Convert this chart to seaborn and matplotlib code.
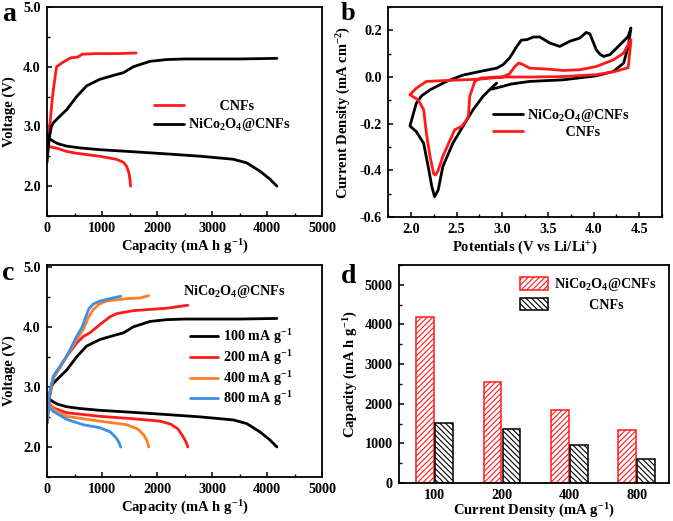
import numpy as np
import pandas as pd
import matplotlib
matplotlib.use('Agg')
import matplotlib.pyplot as plt
import seaborn as sns
from matplotlib.ticker import MultipleLocator, FormatStrFormatter

# ---------------- data ----------------
# Panel a: CNFs
cnf_charge_cap = [0, 20, 55, 100, 150, 176, 282, 433, 555, 645, 900, 1300, 1620]
cnf_charge_v = [2.50, 2.80, 3.06, 3.50, 3.85, 4.00, 4.07, 4.15, 4.16, 4.21, 4.22, 4.22, 4.23]
cnf_dis_cap = [0, 15, 50, 200, 360, 540, 960, 1260, 1390, 1450, 1490, 1510, 1520]
cnf_dis_v = [2.85, 2.70, 2.66, 2.63, 2.58, 2.55, 2.50, 2.45, 2.40, 2.33, 2.22, 2.10, 2.00]

# NiCo2O4@CNFs at 100 mA/g (panels a and c)
n100_charge_cap = [0, 40, 80, 115, 200, 358, 539, 660, 721, 964, 1267, 1390, 1570, 1873, 2176, 2500, 3000, 3500, 4180]
n100_charge_v = [2.40, 2.80, 3.00, 3.06, 3.14, 3.28, 3.50, 3.62, 3.68, 3.79, 3.87, 3.90, 4.00, 4.09, 4.12, 4.13, 4.13, 4.13, 4.14]
n100_dis_cap = [0, 40, 115, 200, 358, 600, 964, 1500, 2176, 2800, 3388, 3630, 3873, 4050, 4180]
n100_dis_v = [2.88, 2.80, 2.75, 2.71, 2.67, 2.64, 2.61, 2.58, 2.54, 2.50, 2.45, 2.39, 2.25, 2.12, 2.00]

# 200 mA/g
n200_charge_cap = [0, 40, 115, 358, 539, 660, 780, 964, 1150, 1267, 1570, 1873, 2176, 2560]
n200_charge_v = [2.40, 2.85, 3.15, 3.51, 3.73, 3.84, 3.90, 4.04, 4.17, 4.22, 4.27, 4.29, 4.31, 4.36]
n200_dis_cap = [0, 40, 115, 358, 964, 1570, 2054, 2250, 2380, 2470, 2530, 2560]
n200_dis_v = [2.82, 2.72, 2.65, 2.57, 2.51, 2.47, 2.43, 2.38, 2.30, 2.18, 2.08, 2.00]

# 400 mA/g
n400_charge_cap = [0, 40, 115, 358, 539, 661, 750, 842, 950, 1085, 1448, 1691, 1850]
n400_charge_v = [2.40, 2.85, 3.15, 3.51, 3.79, 3.96, 4.15, 4.29, 4.38, 4.43, 4.47, 4.48, 4.52]
n400_dis_cap = [0, 40, 115, 358, 964, 1448, 1650, 1760, 1820, 1850]
n400_dis_v = [2.80, 2.70, 2.63, 2.51, 2.43, 2.37, 2.30, 2.20, 2.10, 2.00]

# 800 mA/g
n800_charge_cap = [0, 40, 115, 358, 539, 640, 700, 760, 840, 964, 1145, 1340]
n800_charge_v = [2.40, 2.88, 3.18, 3.51, 3.84, 4.00, 4.15, 4.30, 4.38, 4.43, 4.47, 4.51]
n800_dis_cap = [0, 40, 115, 358, 661, 964, 1150, 1260, 1310, 1340]
n800_dis_v = [2.78, 2.66, 2.59, 2.46, 2.37, 2.32, 2.25, 2.15, 2.07, 2.00]

# Panel b: CV curves
cv_nico_v = [2.89, 3.10, 3.30, 3.67, 4.03, 4.22, 4.33, 4.38, 4.41,
             4.38, 4.29, 4.18, 4.11, 4.07, 4.03, 3.96, 3.92, 3.85, 3.74, 3.63, 3.52, 3.41, 3.34, 3.27, 3.21, 3.16, 3.08, 3.01, 2.94, 2.76, 2.57, 2.39, 2.21, 2.12, 2.06, 1.99,
             2.06, 2.14, 2.19, 2.23, 2.26, 2.30, 2.35, 2.46, 2.57, 2.68, 2.79, 2.90, 2.94]
cv_nico_i = [-0.052, -0.030, -0.019, -0.012, 0.005, 0.024, 0.060, 0.130, 0.210,
             0.174, 0.138, 0.096, 0.088, 0.098, 0.117, 0.185, 0.191, 0.167, 0.153, 0.131, 0.146, 0.172, 0.171, 0.160, 0.158, 0.131, 0.081, 0.053, 0.038, 0.024, 0.008, -0.019, -0.055, -0.080, -0.112, -0.210,
             -0.234, -0.284, -0.384, -0.470, -0.513, -0.484, -0.384, -0.284, -0.212, -0.141, -0.083, -0.040, -0.026]
cv_cnf_v = [4.41, 4.38, 4.22, 4.03, 3.67, 3.30, 2.94, 2.76, 2.70, 2.645, 2.63, 2.60, 2.555, 2.48, 2.43, 2.35, 2.30, 2.27, 2.25, 2.21, 2.17, 2.14, 2.08, 1.99,
            2.06, 2.17, 2.39, 2.76, 3.01, 3.08, 3.14, 3.18, 3.23, 3.30, 3.49, 3.67, 3.85, 4.03, 4.22, 4.33, 4.41]
cv_cnf_i = [0.155, 0.040, 0.022, 0.010, 0.002, 0.000, 0.000, -0.005, -0.019, -0.083, -0.169, -0.190, -0.212, -0.226, -0.270, -0.340, -0.400, -0.420, -0.415, -0.340, -0.240, -0.140, -0.098, -0.076,
            -0.048, -0.019, -0.015, -0.009, 0.000, 0.014, 0.045, 0.060, 0.053, 0.038, 0.034, 0.028, 0.031, 0.045, 0.074, 0.103, 0.160]

# Panel d
densities = ['100', '200', '400', '800']
cap_nico = [4180, 2560, 1850, 1340]
cap_cnf = [1520, 1370, 960, 600]

NICO = r'NiCo$_2$O$_4$@CNFs'
RED = '#ff1a1a'
ORANGE = '#ff7f27'
BLUE = '#3d8fe6'

# ---------------- style ----------------
sns.set_theme(style='ticks')
plt.rcParams.update({
    'font.family': ['Liberation Serif', 'DejaVu Serif'],
    'font.weight': 'bold',
    'axes.labelweight': 'bold',
    'mathtext.fontset': 'custom',
    'mathtext.rm': 'Liberation Serif:bold',
    'mathtext.bf': 'Liberation Serif:bold',
    'mathtext.it': 'Liberation Serif:bold:italic',
    'mathtext.default': 'rm',
    'axes.unicode_minus': False,
    'axes.linewidth': 1.3,
    'axes.edgecolor': 'black',
    'xtick.direction': 'in',
    'ytick.direction': 'in',
    'xtick.major.size': 3.5,
    'ytick.major.size': 3.5,
    'xtick.minor.size': 2,
    'ytick.minor.size': 2,
    'xtick.major.width': 1.1,
    'ytick.major.width': 1.1,
    'xtick.minor.width': 1.0,
    'ytick.minor.width': 1.0,
    'xtick.labelsize': 10.2,
    'ytick.labelsize': 10.2,
    'xtick.color': 'black',
    'ytick.color': 'black',
    'axes.labelsize': 10.5,
    'axes.labelcolor': 'black',
    'text.color': 'black',
    'xtick.major.pad': 4.5,
    'ytick.major.pad': 4.5,
    'hatch.linewidth': 0.8,
})

fig = plt.figure(figsize=(6.73, 5.21), dpi=100)
W, H = 673.0, 521.0


def axes_px(l, t, r, b):
    return fig.add_axes([l / W, 1 - b / H, (r - l) / W, (b - t) / H])


ax_a = axes_px(47, 7, 322, 216)
ax_b = axes_px(388, 7, 662, 217)
ax_c = axes_px(47, 265, 322, 477)
ax_d = axes_px(399, 265, 669, 483)

LW = 2.0
LEGFS = 10.2


def draw(ax, x, y, color):
    sns.lineplot(x=x, y=y, ax=ax, color=color, lw=LW, sort=False, estimator=None, legend=False)
    return ax.lines[-1]


def style_axes(ax):
    for s in ax.spines.values():
        s.set_visible(True)
        s.set_linewidth(1.3)
        s.set_color('black')
    ax.tick_params(which='both', top=False, right=False)


# ---- panel a ----
h_cnf = draw(ax_a, cnf_charge_cap, cnf_charge_v, RED)
draw(ax_a, cnf_dis_cap, cnf_dis_v, RED)
h_nico = draw(ax_a, n100_charge_cap, n100_charge_v, 'black')
draw(ax_a, n100_dis_cap, n100_dis_v, 'black')
ax_a.set_xlim(0, 5000)
ax_a.set_ylim(1.5, 5.0)

# ---- panel c ----
hc = []
for (cc, cv, dc, dv, col) in [
    (n100_charge_cap, n100_charge_v, n100_dis_cap, n100_dis_v, 'black'),
    (n200_charge_cap, n200_charge_v, n200_dis_cap, n200_dis_v, RED),
    (n400_charge_cap, n400_charge_v, n400_dis_cap, n400_dis_v, ORANGE),
    (n800_charge_cap, n800_charge_v, n800_dis_cap, n800_dis_v, BLUE),
]:
    hc.append(draw(ax_c, cc, cv, col))
    draw(ax_c, dc, dv, col)
ax_c.set_xlim(0, 5000)
ax_c.set_ylim(1.5, 5.03)

for ax in (ax_a, ax_c):
    style_axes(ax)
    ax.xaxis.set_major_locator(MultipleLocator(1000))
    ax.xaxis.set_minor_locator(MultipleLocator(500))
    ax.yaxis.set_major_locator(MultipleLocator(1.0))
    ax.yaxis.set_minor_locator(MultipleLocator(0.5))
    ax.yaxis.set_major_formatter(FormatStrFormatter('%.1f'))
    ax.set_xlabel(r'Capacity (mA h g$^{-1}$)', labelpad=2)
    ax.set_ylabel('Voltage (V)', labelpad=5)

ax_a.legend([h_cnf, h_nico], ['         CNFs', NICO], loc='center left',
            bbox_to_anchor=(0.39, 0.475), frameon=False, fontsize=LEGFS,
            handlelength=2.1, handletextpad=0.3, labelspacing=0.25,
            borderpad=0, borderaxespad=0)

ax_c.legend(hc, [r'100 mA g$^{-1}$', r'200 mA g$^{-1}$', r'400 mA g$^{-1}$', r'800 mA g$^{-1}$'],
            loc='center left', bbox_to_anchor=(0.52, 0.515), frameon=False, fontsize=LEGFS,
            handlelength=2.0, handletextpad=0.3, labelspacing=0.12,
            borderpad=0, borderaxespad=0)
ax_c.text(0.68, 0.873, NICO, transform=ax_c.transAxes, ha='center', va='center', fontsize=LEGFS)

# ---- panel b ----
hb_n = draw(ax_b, cv_nico_v, cv_nico_i, 'black')
hb_c = draw(ax_b, cv_cnf_v, cv_cnf_i, RED)
style_axes(ax_b)
ax_b.set_xlim(1.75, 4.75)
ax_b.set_ylim(-0.6, 0.3)
ax_b.xaxis.set_major_locator(MultipleLocator(0.5))
ax_b.xaxis.set_minor_locator(MultipleLocator(0.25))
ax_b.yaxis.set_major_locator(MultipleLocator(0.2))
ax_b.yaxis.set_minor_locator(MultipleLocator(0.1))
ax_b.xaxis.set_major_formatter(FormatStrFormatter('%.1f'))
ax_b.yaxis.set_major_formatter(FormatStrFormatter('%.1f'))
ax_b.set_xlabel(r'Potentials (V vs Li/Li$^{+}$)', labelpad=2)
ax_b.set_ylabel(r'Current Density (mA cm$^{-2}$)', labelpad=5)
ax_b.legend([hb_n, hb_c], [NICO, '           CNFs'], loc='center left',
            bbox_to_anchor=(0.383, 0.448), frameon=False, fontsize=LEGFS,
            handlelength=2.1, handletextpad=0.3, labelspacing=0.2,
            borderpad=0, borderaxespad=0)

# ---- panel d ----
df = pd.DataFrame({
    'density': densities * 2,
    'capacity': cap_nico + cap_cnf,
    'material': ['NiCo2O4@CNFs'] * len(densities) + ['CNFs'] * len(densities),
})
sns.barplot(data=df, x='density', y='capacity', hue='material', order=densities,
            hue_order=['NiCo2O4@CNFs', 'CNFs'], palette=['white', 'white'],
            width=0.56, gap=0.07, ax=ax_d, legend=False, linewidth=1.1)
hatches = ['//////', '\\\\\\\\\\\\']
colors = [RED, 'black']
for cont, hatch, col in zip(ax_d.containers, hatches, colors):
    for p in cont:
        p.set_facecolor('white')
        p.set_edgecolor(col)
        p.set_hatch(hatch)
        p.set_linewidth(1.1)
style_axes(ax_d)
ax_d.set_xlim(-0.53, 3.48)
ax_d.set_ylim(0, 5500)
ax_d.yaxis.set_major_locator(MultipleLocator(1000))
ax_d.yaxis.set_minor_locator(MultipleLocator(500))
ax_d.tick_params(axis='x', which='both', length=0)
ax_d.set_xlabel(r'Current Density (mA g$^{-1}$)', labelpad=0)
ax_d.set_ylabel(r'Capacity (mA h g$^{-1}$)', labelpad=3)
ax_d.legend([ax_d.containers[0], ax_d.containers[1]], [NICO, '          CNFs'],
            loc='center left', bbox_to_anchor=(0.448, 0.867), frameon=False, fontsize=LEGFS,
            handlelength=2.0, handleheight=1.0, handletextpad=0.4, labelspacing=0.3,
            borderpad=0, borderaxespad=0)

# panel letters
fig.text(2 / W, 1 - 21 / H, 'a', fontsize=20, fontweight='bold', ha='left', va='baseline')
fig.text(341 / W, 1 - 20 / H, 'b', fontsize=19, fontweight='bold', ha='left', va='baseline')
fig.text(2 / W, 1 - 280 / H, 'c', fontsize=20, fontweight='bold', ha='left', va='baseline')
fig.text(341 / W, 1 - 283 / H, 'd', fontsize=20, fontweight='bold', ha='left', va='baseline')

fig.savefig('out.png', dpi=100, facecolor='white')
